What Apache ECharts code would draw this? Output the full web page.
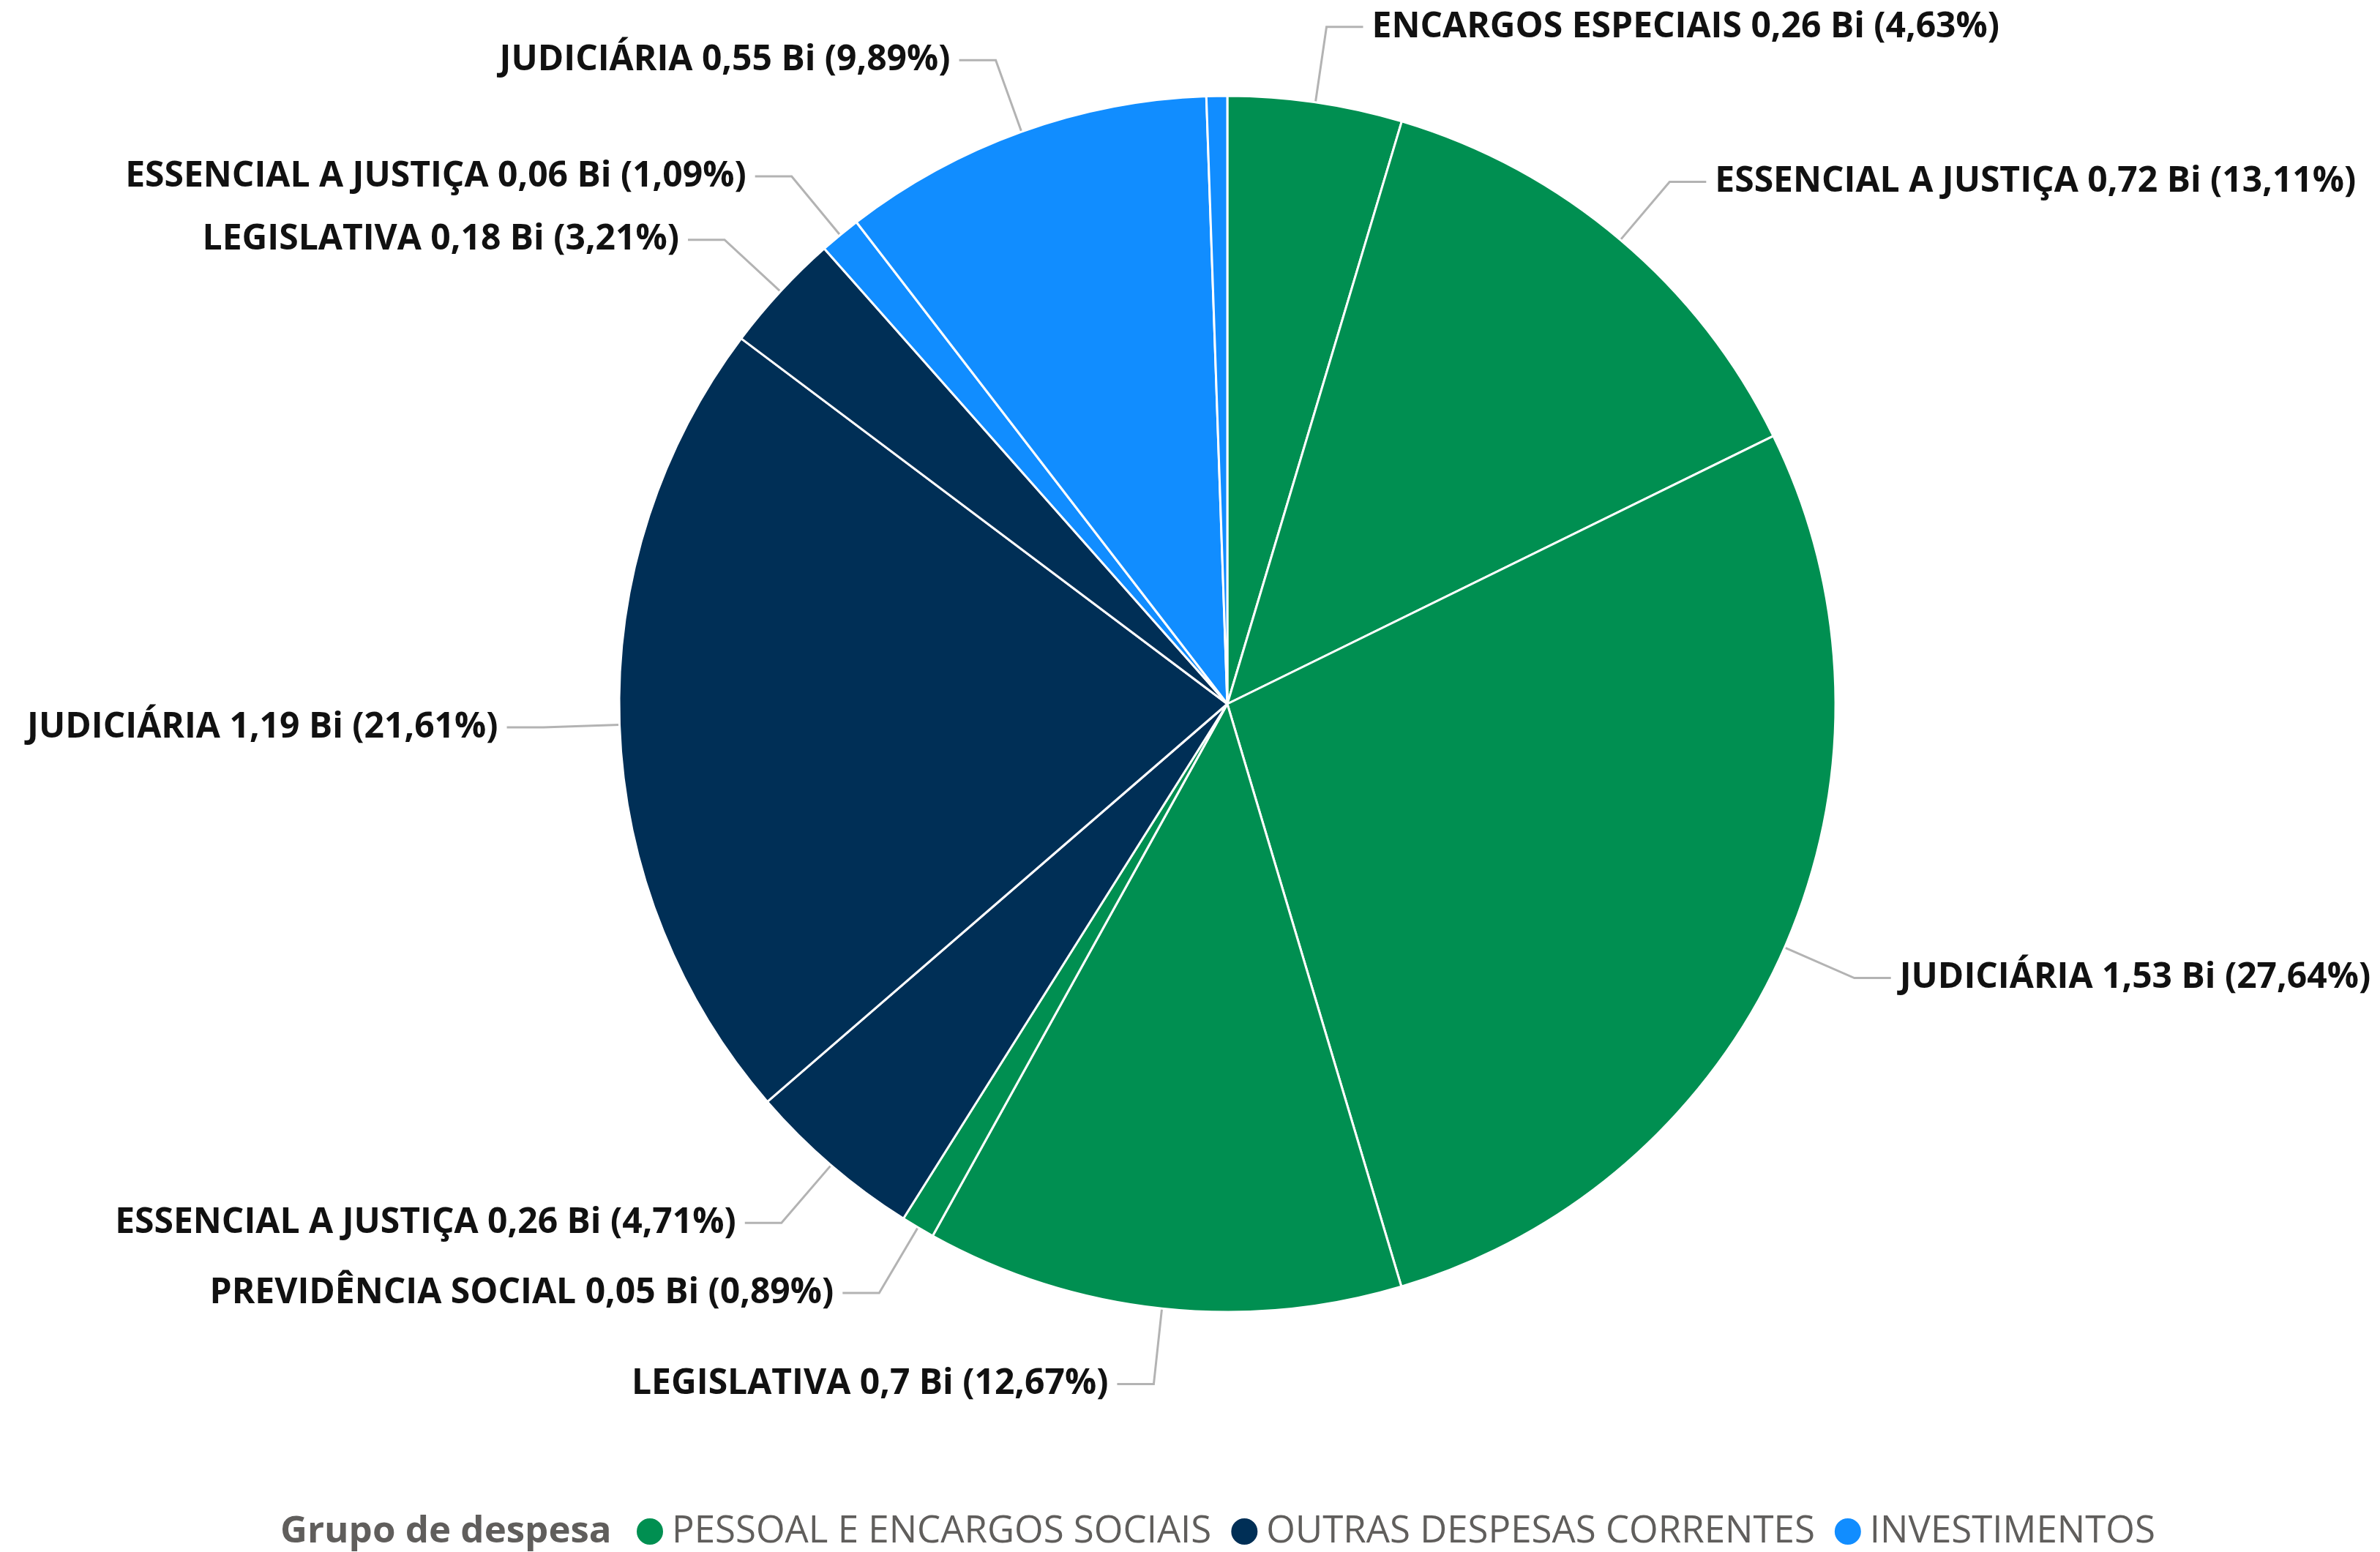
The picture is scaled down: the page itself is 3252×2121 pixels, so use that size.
<!DOCTYPE html>
<html>
<head>
<meta charset="utf-8">
<script src="https://cdn.jsdelivr.net/npm/echarts@6/dist/echarts.min.js"></script>
<style>
html,body{margin:0;padding:0;background:#fff;}
#chart{width:3252px;height:2121px;}
</style>
</head>
<body>
<div id="chart"></div>
<script>
// Slices, clockwise from 12 o'clock
const funcoes = ['ENCARGOS ESPECIAIS','ESSENCIAL A JUSTIÇA','JUDICIÁRIA','LEGISLATIVA','PREVIDÊNCIA SOCIAL',
                 'ESSENCIAL A JUSTIÇA','JUDICIÁRIA','LEGISLATIVA',
                 'ESSENCIAL A JUSTIÇA','JUDICIÁRIA','LEGISLATIVA'];
const grupos = ['PESSOAL E ENCARGOS SOCIAIS','PESSOAL E ENCARGOS SOCIAIS','PESSOAL E ENCARGOS SOCIAIS','PESSOAL E ENCARGOS SOCIAIS','PESSOAL E ENCARGOS SOCIAIS',
                'OUTRAS DESPESAS CORRENTES','OUTRAS DESPESAS CORRENTES','OUTRAS DESPESAS CORRENTES',
                'INVESTIMENTOS','INVESTIMENTOS','INVESTIMENTOS'];
const valoresBi = [0.26, 0.72, 1.53, 0.7, 0.05, 0.26, 1.19, 0.18, 0.06, 0.55, 0.03];
const percentuais = [4.63, 13.11, 27.64, 12.67, 0.89, 4.71, 21.61, 3.21, 1.09, 9.89, 0.55];
const legendaGrupos = ['PESSOAL E ENCARGOS SOCIAIS','OUTRAS DESPESAS CORRENTES','INVESTIMENTOS'];
const coresGrupos = {'PESSOAL E ENCARGOS SOCIAIS':'#008F51','OUTRAS DESPESAS CORRENTES':'#002F56','INVESTIMENTOS':'#118DFF'};
const tituloLegenda = 'Grupo de despesa';

const FONT = '"Open Sans", "Noto Sans", sans-serif';
const fmtBi = v => String(v).replace('.', ',');
const fmtPct = v => v.toFixed(2).replace('.', ',');

const data = percentuais.map((p, i) => ({
  name: grupos[i],
  value: p,
  itemStyle: { color: coresGrupos[grupos[i]] }
}));

const chart = echarts.init(document.getElementById('chart'), null, {renderer: 'canvas'});
chart.setOption({
  animation: false,
  backgroundColor: '#ffffff',
  title: {
    text: tituloLegenda,
    left: 383,
    top: 2063,
    padding: 0,
    textStyle: { fontFamily: FONT, fontWeight: 'bold', fontSize: 51, color: '#605E5C', lineHeight: 60 }
  },
  legend: {
    data: legendaGrupos,
    left: 868,
    top: 2063,
    padding: 0,
    icon: 'circle',
    itemWidth: 38,
    itemHeight: 38,
    itemGap: 25,
    textStyle: { fontFamily: FONT, fontSize: 51, color: '#605E5C', lineHeight: 60, padding: [0, 0, 0, 6] }
  },
  series: [{
    type: 'pie',
    center: [1677, 962],
    radius: 831,
    startAngle: 90,
    clockwise: true,
    avoidLabelOverlap: true,
    minShowLabelAngle: 2.5,
    data: data,
    itemStyle: { borderColor: '#ffffff', borderWidth: 3 },
    label: {
      show: true,
      position: 'outside',
      distanceToLabelLine: 12,
      fontFamily: FONT,
      fontWeight: 'bold',
      fontSize: 48,
      color: '#111111',
      formatter: p => `${funcoes[p.dataIndex]} ${fmtBi(valoresBi[p.dataIndex])} Bi (${fmtPct(percentuais[p.dataIndex])}%)`
    },
    labelLine: {
      show: true,
      length: 104,
      length2: 50,
      lineStyle: { color: '#B3B3B3', width: 3 }
    },
    emphasis: { disabled: true }
  }]
});
</script>
</body>
</html>
